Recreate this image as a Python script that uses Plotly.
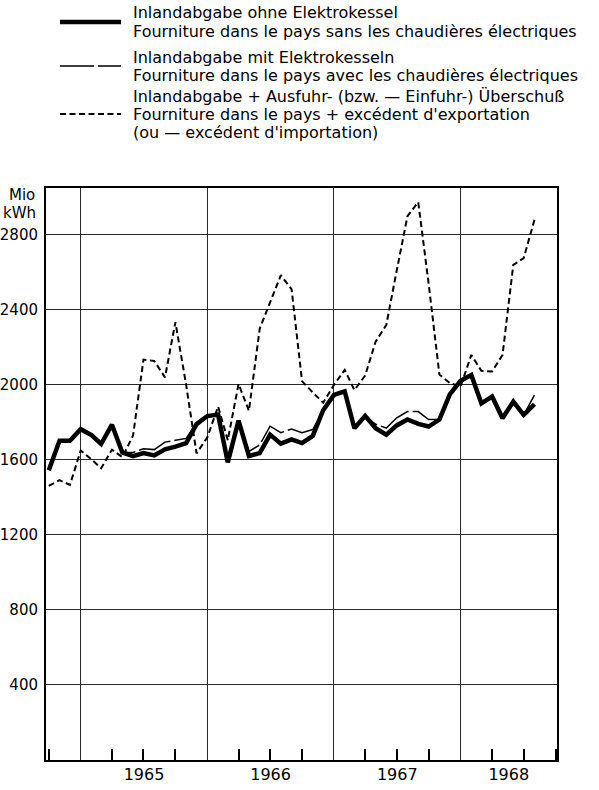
import pandas as pd
import plotly.graph_objects as go

# ---------------- data (Mio kWh, monthly, Oct 1964 - Aug 1968) ----------------
months = pd.date_range("1964-10-01", "1968-08-01", freq="MS")

ohne_elektrokessel = [
    1545, 1702, 1702,                                                    # 1964 Oct-Dec
    1764, 1733, 1685, 1788, 1640, 1620, 1637, 1624, 1657, 1671, 1690, 1791,  # 1965
    1834, 1842, 1587, 1810, 1621, 1636, 1735, 1687, 1710, 1690, 1728, 1865,  # 1966
    1947, 1966, 1769, 1835, 1769, 1735, 1784, 1816, 1792, 1778, 1815, 1950,  # 1967
    2022, 2053, 1902, 1938, 1822, 1911, 1840, 1897,                      # 1968 Jan-Aug
]

mit_elektrokesseln = [
    1545, 1702, 1702,
    1764, 1733, 1685, 1788, 1640, 1640, 1660, 1655, 1695, 1705, 1715, 1795,
    1834, 1842, 1600, 1810, 1645, 1680, 1780, 1745, 1765, 1745, 1762, 1865,
    1947, 1966, 1769, 1835, 1790, 1770, 1825, 1858, 1858, 1815, 1817, 1950,
    2022, 2053, 1902, 1938, 1822, 1911, 1840, 1945,
]

mit_exportsaldo = [
    1462, 1492, 1467,
    1650, 1603, 1556, 1655, 1615, 1730, 2135, 2128, 2040, 2335, 2000, 1635,
    1720, 1885, 1705, 2005, 1862, 2300, 2440, 2585, 2510, 2020, 1960, 1905,
    2000, 2080, 1973, 2050, 2230, 2320, 2610, 2900, 2975, 2540, 2055, 2010,
    1990, 2160, 2075, 2072, 2160, 2640, 2676, 2880,
]

y_ticks = [400, 800, 1200, 1600, 2000, 2400, 2800]
years = [1965, 1966, 1967, 1968]

legend_rows = [
    "Inlandabgabe ohne Elektrokessel",
    "Fourniture dans le pays sans les chaudières électriques",
    "Inlandabgabe mit Elektrokesseln",
    "Fourniture dans le pays avec les chaudières électriques",
    "Inlandabgabe + Ausfuhr- (bzw. — Einfuhr-) Überschuß",
    "Fourniture dans le pays + excédent d'exportation",
    "(ou — excédent d'importation)",
]

# ---------------- layout geometry ----------------
W, H = 599, 790
ML, MR, MT, MB = 46, 42, 188, 30
PW, PH = W - ML - MR, H - MT - MB
X_RANGE = ["1964-09-23", "1968-10-05"]
Y_RANGE = [0, 3050]
FONT = "DejaVu Sans"


def px_x(px):
    return (px - ML) / PW


def px_y(py):
    return (H - MB - py) / PH


fig = go.Figure()

fig.add_trace(go.Scatter(
    x=months, y=mit_elektrokesseln, mode="lines",
    line=dict(color="black", width=1.5, dash="34px,4px"),
    name="Inlandabgabe mit Elektrokesseln", hoverinfo="skip"))
fig.add_trace(go.Scatter(
    x=months, y=mit_exportsaldo, mode="lines",
    line=dict(color="black", width=2, dash="6px,3.5px"),
    name="Inlandabgabe + Ausfuhrüberschuß", hoverinfo="skip"))
fig.add_trace(go.Scatter(
    x=months, y=ohne_elektrokessel, mode="lines",
    line=dict(color="black", width=4.5),
    name="Inlandabgabe ohne Elektrokessel", hoverinfo="skip"))
# empty trace that carries the year-label axis
fig.add_trace(go.Scatter(
    x=[months[0], months[-1]], y=[None, None], xaxis="x2", mode="lines",
    hoverinfo="skip", showlegend=False))

# year label positions: centre of the visible part of each year
rng0, rng1 = pd.Timestamp(X_RANGE[0]), pd.Timestamp(X_RANGE[1])
label_pos = []
for yr in years:
    a = max(pd.Timestamp(f"{yr}-01-01"), rng0)
    b = min(pd.Timestamp(f"{yr + 1}-01-01"), rng1)
    label_pos.append(a + (b - a) / 2)

fig.update_layout(
    width=W, height=H,
    margin=dict(l=ML, r=MR, t=MT, b=MB, pad=0, autoexpand=False),
    paper_bgcolor="white", plot_bgcolor="white",
    showlegend=False,
    font=dict(family=FONT, color="black"),
    xaxis=dict(
        type="date", range=X_RANGE, automargin=False,
        tick0="1965-01-01", dtick="M12",
        showgrid=True, gridcolor="#2a2a2a", gridwidth=1,
        ticks="", showticklabels=False,
        minor=dict(tick0="1965-01-01", dtick="M3", ticks="inside",
                   ticklen=11, tickwidth=1.5, tickcolor="black", showgrid=False),
        showline=True, linecolor="black", linewidth=2, mirror=True,
        zeroline=False,
    ),
    xaxis2=dict(
        type="date", range=X_RANGE, overlaying="x", anchor="y", side="bottom",
        automargin=False,
        tickmode="array", tickvals=label_pos, ticktext=[str(y) for y in years],
        showgrid=False, ticks="", showline=False, zeroline=False,
        ticklabelstandoff=3,
        tickfont=dict(family=FONT, size=16, color="black"),
    ),
    yaxis=dict(
        range=Y_RANGE, tickmode="array", tickvals=y_ticks, automargin=False,
        ticktext=[str(v) for v in y_ticks],
        showgrid=True, gridcolor="#2a2a2a", gridwidth=1,
        ticks="", ticklabelstandoff=3,
        tickfont=dict(family=FONT, size=15, color="black"),
        showline=True, linecolor="black", linewidth=2, mirror=True,
        zeroline=False,
    ),
)

# unit label
fig.add_annotation(text="Mio", xref="paper", yref="paper", x=px_x(37), y=px_y(195),
                   xanchor="right", yanchor="middle", showarrow=False,
                   font=dict(family=FONT, size=15, color="black"))
fig.add_annotation(text="kWh", xref="paper", yref="paper", x=px_x(38), y=px_y(213),
                   xanchor="right", yanchor="middle", showarrow=False,
                   font=dict(family=FONT, size=15, color="black"))

# legend (drawn manually, above the plot)
row_y = [13, 31, 57, 75, 96, 114, 132]
for txt, yy in zip(legend_rows, row_y):
    fig.add_annotation(text=txt, xref="paper", yref="paper", x=px_x(131), y=px_y(yy),
                       xanchor="left", yanchor="middle", showarrow=False,
                       font=dict(family=FONT, size=16, color="black"))

samples = [
    (22, dict(color="black", width=4.5)),
    (66, dict(color="black", width=1.5, dash="34px,4px")),
    (114, dict(color="black", width=2, dash="6px,3.5px")),
]
for yy, ln in samples:
    fig.add_shape(type="line", xref="paper", yref="paper",
                  x0=px_x(60), x1=px_x(121), y0=px_y(yy), y1=px_y(yy), line=ln)

# the page body has a default 8px margin; remove it so the figure fills the window
fig.write_html("out.html", config={"displayModeBar": False},
               post_script="document.body.style.margin='0px';")
